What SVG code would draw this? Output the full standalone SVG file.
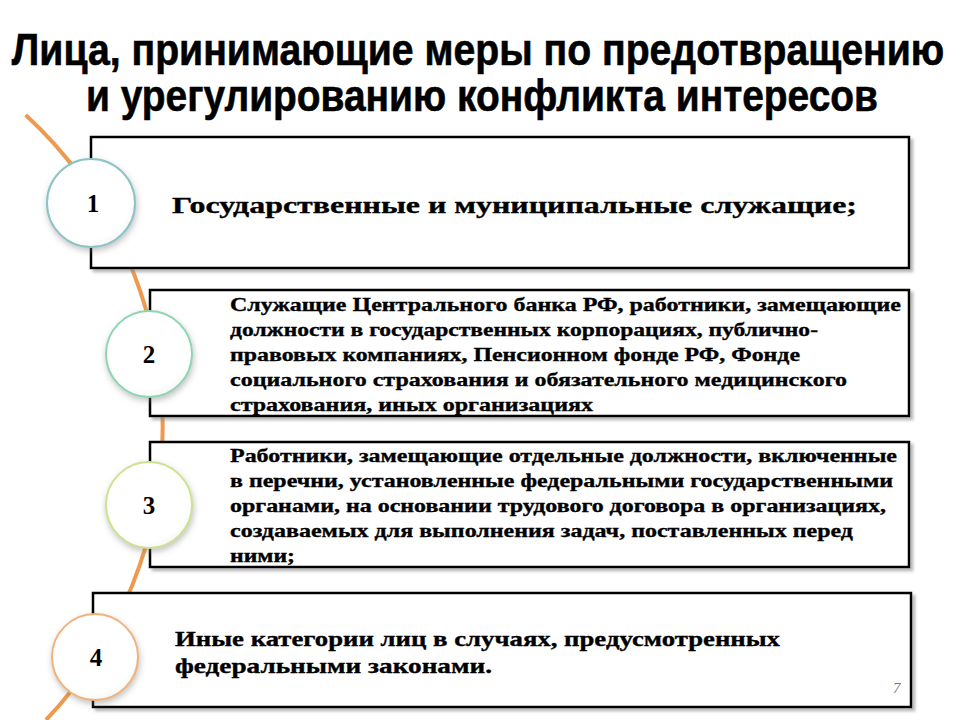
<svg xmlns="http://www.w3.org/2000/svg" width="960" height="720" viewBox="0 0 960 720">
<defs>
<style>
.title{font-family:"Liberation Sans Narrow","Liberation Sans",Arial,sans-serif;font-weight:bold;font-size:44px;fill:#000;stroke:#000;stroke-width:0.6;text-anchor:middle;}
.box{fill:#fff;stroke:#000;stroke-width:2.5;filter:url(#bsh);}
.txt{font-family:"Liberation Serif","Times New Roman",serif;font-weight:bold;fill:#000;stroke:#000;stroke-width:0.35;}
.t2{font-size:19px;}
.num{font-family:"Liberation Serif","Times New Roman",serif;font-weight:bold;font-size:25px;fill:#000;text-anchor:middle;}
.circ{fill:url(#cg);stroke-width:2;filter:url(#csh);}
.curve{fill:none;stroke:#ee9a4e;stroke-width:4;}
.pg{font-family:"Liberation Serif",serif;font-style:italic;font-size:15px;fill:#777;}
</style>
<filter id="bsh" x="-5%" y="-10%" width="115%" height="130%">
<feDropShadow dx="3" dy="3" stdDeviation="1.5" flood-color="#888" flood-opacity="0.6"/>
</filter>
<filter id="csh" x="-30%" y="-30%" width="160%" height="160%">
<feDropShadow dx="1" dy="3" stdDeviation="3" flood-color="#777" flood-opacity="0.45"/>
</filter>
<radialGradient id="cg" cx="0.45" cy="0.4" r="0.65">
<stop offset="0" stop-color="#ffffff"/>
<stop offset="0.8" stop-color="#ffffff"/>
<stop offset="1" stop-color="#f2f2f2"/>
</radialGradient>
</defs>
<rect width="960" height="720" fill="#fff"/>
<g id="title">
<text class="title" transform="translate(478,65) scale(0.9,1)" x="0" y="0" textLength="1036" lengthAdjust="spacingAndGlyphs">Лица, принимающие меры по предотвращению</text>
<text class="title" transform="translate(482,111) scale(0.9,1)" x="0" y="0" textLength="880" lengthAdjust="spacingAndGlyphs">и урегулированию конфликта интересов</text>
</g>
<g id="connectors">
<path class="curve" d="M 25.7 115 A 425 425 0 0 1 46 720"/>
</g>
<g id="item1">
<rect class="box" x="91" y="137" width="818" height="131"/>
<text class="txt" x="172" y="213" font-size="24" textLength="685" lengthAdjust="spacingAndGlyphs">Государственные и муниципальные  служащие;</text>
<circle class="circ" cx="91" cy="203" r="44" stroke="#8cc4c6"/>
<text class="num" x="93" y="212">1</text>
</g>
<g id="item2">
<rect class="box" x="150" y="290" width="759" height="126"/>
<text class="txt t2" x="230" y="311" textLength="671" lengthAdjust="spacingAndGlyphs">Служащие Центрального банка РФ, работники, замещающие</text>
<text class="txt t2" x="230" y="336" textLength="588" lengthAdjust="spacingAndGlyphs">должности в государственных корпорациях, публично-</text>
<text class="txt t2" x="230" y="361" textLength="570" lengthAdjust="spacingAndGlyphs">правовых компаниях, Пенсионном фонде РФ, Фонде</text>
<text class="txt t2" x="230" y="386" textLength="617" lengthAdjust="spacingAndGlyphs">социального страхования и обязательного медицинского</text>
<text class="txt t2" x="230" y="411" textLength="363" lengthAdjust="spacingAndGlyphs">страхования, иных организациях</text>
<circle class="circ" cx="149" cy="354" r="43" stroke="#8dd6b2"/>
<text class="num" x="149" y="363">2</text>
</g>
<g id="item3">
<rect class="box" x="150" y="442" width="759" height="125"/>
<text class="txt t2" x="230" y="462" textLength="667" lengthAdjust="spacingAndGlyphs">Работники, замещающие отдельные должности, включенные</text>
<text class="txt t2" x="230" y="487" textLength="663" lengthAdjust="spacingAndGlyphs">в перечни, установленные федеральными государственными</text>
<text class="txt t2" x="230" y="512" textLength="656" lengthAdjust="spacingAndGlyphs">органами, на основании трудового договора  в организациях,</text>
<text class="txt t2" x="230" y="537" textLength="623" lengthAdjust="spacingAndGlyphs">создаваемых для выполнения задач, поставленных перед</text>
<text class="txt t2" x="230" y="562" textLength="65" lengthAdjust="spacingAndGlyphs">ними;</text>
<circle class="circ" cx="149" cy="505" r="43" stroke="#cce28e"/>
<text class="num" x="149" y="514">3</text>
</g>
<g id="item4">
<rect class="box" x="93" y="593" width="818" height="114"/>
<text class="txt" x="175" y="646" font-size="21" textLength="605" lengthAdjust="spacingAndGlyphs">Иные категории лиц в случаях, предусмотренных</text>
<text class="txt" x="175" y="673" font-size="21" textLength="317" lengthAdjust="spacingAndGlyphs">федеральными законами.</text>
<circle class="circ" cx="95" cy="657" r="43" stroke="#f2b27c"/>
<text class="num" x="96" y="666">4</text>
</g>
<text class="pg" x="893" y="693">7</text>
</svg>
